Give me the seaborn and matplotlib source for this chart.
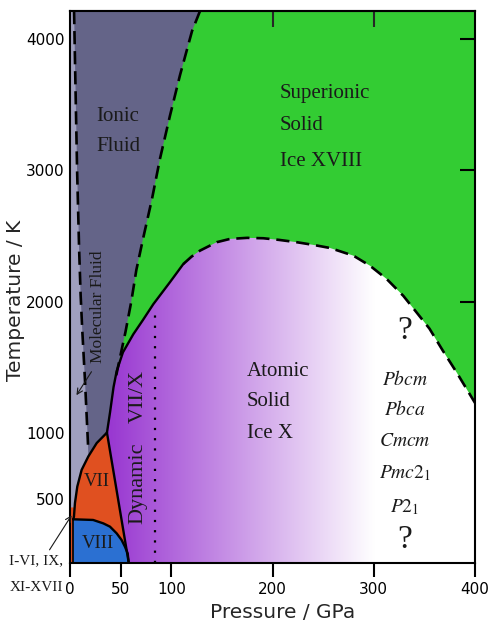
import numpy as np
import matplotlib
matplotlib.use("Agg")
import matplotlib.pyplot as plt
import seaborn as sns
from matplotlib.patches import Polygon

# ---------------- data (pressure GPa, temperature K) ----------------
x_ticks = [0, 50, 100, 200, 300, 400]
y_ticks = [500, 1000, 2000, 3000, 4000]
P_MIN, P_MAX = 0, 400
T_MIN, T_MAX = 15, 4210

# molecular / ionic fluid boundary (dashed)
mol_P = [4, 5.5, 7, 9, 10.5, 12, 14.8, 17.8]
mol_T = [4210, 3600, 3000, 2400, 2050, 1800, 1400, 912]

# ionic fluid / superionic boundary (dashed)
ion_P = [128.4, 120.5, 108.6, 98.8, 88.9, 81.0, 72.1, 65.5, 60.5, 54.8, 48.0, 44.6]
ion_T = [4210, 4057, 3721, 3416, 3088, 2782, 2477, 2240, 2000, 1770, 1525, 1400]

# melting curve of ice VII (solid)
melt_P = [3.3, 3.9, 4.9, 7.2, 11.5, 18.1, 26.4, 36.5]
melt_T = [345, 365, 469, 594, 721, 823, 925, 1004]

# ice X boundary from triple point (solid)
xb_P = [36.5, 39.5, 43.0, 46.1, 52.3, 62.5, 72.0, 82.3, 98.8, 111.9]
xb_T = [1004, 1156, 1350, 1472, 1615, 1752, 1860, 1981, 2149, 2286]

# superionic / ice X dome (dashed)
dome_P = [111.9, 120, 128.4, 144.9, 158, 175, 190.9, 206, 223.9, 240, 256.8, 279.8,
          296.3, 312.8, 329.2, 342.4, 355, 368, 382, 400]
dome_T = [2286, 2342, 2388, 2452, 2477, 2485, 2482, 2470, 2452, 2432, 2408, 2350,
          2273, 2172, 2044, 1917, 1795, 1630, 1460, 1230]

# VII / X line (solid)
vx_P = [36.5, 58.0]
vx_T = [1004, 15]

# VIII top (solid)
viii_P = [3.3, 22.8, 32.9, 39.5, 46.1, 51.0, 54.3, 57.0, 58.0]
viii_T = [345, 340, 314, 289, 238, 187, 136, 85, 15]

# dynamic VII/X dotted line
dot_P = [84, 84]
dot_T = [15, 1943]

# colours
GREEN = "#33cc33"
DARK_FLUID = "#646488"
LIGHT_FLUID = "#a0a0bf"
ORANGE = "#e05020"
BLUE = "#2b70d2"
PURPLE = np.array([0.60, 0.22, 0.82])

sns.set_style("ticks")
plt.rcParams["font.family"] = ["DejaVu Sans"]
plt.rcParams["mathtext.fontset"] = "stix"
SERIF = ["Liberation Serif", "DejaVu Serif"]
TXT = "#1a1a1a"

fig = plt.figure(figsize=(4.91, 6.24), dpi=100)
ax = fig.add_axes([0.14257, 0.09824, 0.82485, 0.88413])
ax.set_facecolor(GREEN)

# dark ionic fluid
dark_P = [0] + ion_P + xb_P[::-1][2:] + melt_P[::-1] + [0]
dark_T = [T_MAX] + ion_T + xb_T[::-1][2:] + melt_T[::-1] + [345]
ax.fill(dark_P, dark_T, color=DARK_FLUID, lw=0, zorder=1.0)

# light molecular fluid
light_P = [0] + mol_P + [18.1, 11.5, 7.2, 4.9, 3.9, 3.3, 0]
light_T = [T_MAX] + mol_T + [823, 721, 594, 469, 365, 345, 345]
ax.fill(light_P, light_T, color=LIGHT_FLUID, lw=0, zorder=1.1)

# small I-VI etc. sliver
ax.fill([0, 0, 4.3, 3.9, 3.3, 3.3], [T_MIN, 435, 435, 365, 345, T_MIN],
        color=ORANGE, lw=0, zorder=1.2)

# ice VII
vii_P = melt_P + [58.0, 3.3]
vii_T = melt_T + [15, 15]
ax.fill(vii_P, vii_T, color=ORANGE, lw=0, zorder=1.3)

# ice VIII
ax.fill(viii_P + [3.3], viii_T + [15], color=BLUE, lw=0, zorder=1.4)

# ice X purple gradient region
reg_P = vx_P[::-1] + xb_P[1:] + dome_P[1:] + [400, 58.0]
reg_T = vx_T[::-1] + xb_T[1:] + dome_T[1:] + [15, 15]
Pgrid = np.linspace(P_MIN, P_MAX, 800)
frac = np.clip((Pgrid - 40) / (300 - 40), 0, 1)
img = PURPLE[None, :] * (1 - frac[:, None]) + frac[:, None]
img = img[None, :, :]
im = ax.imshow(img, extent=[P_MIN, P_MAX, T_MIN, T_MAX], origin="lower",
               aspect="auto", zorder=1.5, interpolation="bilinear")
clip = Polygon(np.column_stack([reg_P, reg_T]), closed=True,
               transform=ax.transData, facecolor="none", edgecolor="none")
ax.add_patch(clip)
im.set_clip_path(clip)

# boundary lines
DASH = (0, (5.0, 2.6))
def line(P, T, ls="-", lw=1.7):
    n = len(ax.lines)
    sns.lineplot(x=P, y=T, sort=False, estimator=None, color="black",
                 linewidth=lw, ax=ax, zorder=3)
    for ln in ax.lines[n:]:
        ln.set_linestyle(ls)
        ln.set_linewidth(lw)
        ln.set_dash_capstyle("butt")
        ln.set_solid_joinstyle("round")

line(mol_P, mol_T, DASH, 1.9)
line(ion_P, ion_T, DASH, 1.9)
line(dome_P, dome_T, DASH, 1.9)
line(melt_P, melt_T)
line(xb_P, xb_T)
line(vx_P, vx_T)
line(viii_P, viii_T)
line([3.3, 3.3], [345, 15], "-", 1.2)
line(dot_P, dot_T, (0, (1, 3.6)), 1.6)

ax.set_xlim(P_MIN, P_MAX)
ax.set_ylim(T_MIN, T_MAX)

# region labels
def t(x, y, s, size=15, ha="center", rot=0, fam=SERIF, **kw):
    ax.text(x, y, s, fontsize=size, ha=ha, va="center", rotation=rot,
            family=fam, color=TXT, zorder=4, **kw)

t(47.4, 3408, "Ionic")
t(47.4, 3179, "Fluid")
t(207.4, 3584, "Superionic", ha="left")
t(207.4, 3340, "Solid", ha="left")
t(207.4, 3065, "Ice XVIII", ha="left")
t(174.8, 1469, "Atomic", ha="left")
t(174.8, 1240, "Solid", ha="left")
t(174.8, 996, "Ice X", ha="left")
t(67.2, 1279, "VII/X", size=16, rot=90)
t(67.2, 622, "Dynamic", size=16, rot=90)
t(26.7, 630, "VII", size=13.5)
t(27.7, 164, "VIII", size=13.5)
t(27.7, 1958, "Molecular Fluid", size=12.5, rot=90)

t(330.9, 1782, "?", size=24)
t(330.9, 187, "?", size=24)
t(330.9, 1408, r"$Pbcm$", size=14)
t(330.9, 1179, r"$Pbca$", size=14)
t(330.9, 935, r"$Cmcm$", size=14)
t(330.9, 698, r"$Pmc2_1$", size=14)
t(330.9, 439, r"$P2_1$", size=14)

ax.text(-33.6, 27, "I-VI, IX,", fontsize=11, ha="center", va="center",
        family=SERIF, color=TXT, clip_on=False)
ax.text(-33.6, -172, "XI-XVII", fontsize=11, ha="center", va="center",
        family=SERIF, color=TXT, clip_on=False)
ax.annotate("", xy=(3, 393), xytext=(-21.7, 95),
            arrowprops=dict(arrowstyle="->", lw=0.8, color=TXT),
            annotation_clip=False, zorder=4)
ax.annotate("", xy=(4.9, 1271), xytext=(22.7, 1485),
            arrowprops=dict(arrowstyle="->", lw=0.8, color=TXT),
            annotation_clip=False, zorder=4)

# axes styling
for s in ax.spines.values():
    s.set_linewidth(1.5)
    s.set_color("black")
    s.set_visible(True)
ax.set_xticks(x_ticks)
ax.set_yticks(y_ticks)
ax.tick_params(axis="x", direction="out", length=10, width=1.5,
               labelsize=11, pad=4, colors="black")
ax.tick_params(axis="y", direction="in", left=True, right=True, length=11,
               width=1.5, labelsize=11, pad=4, colors="black")
sec = ax.secondary_xaxis("top")
sec.set_xticks(x_ticks[1:-1], labels=[""] * (len(x_ticks) - 2))
sec.tick_params(direction="in", length=11.5, width=1.5)
sec.spines["top"].set_linewidth(1.5)

ax.set_xlabel("Pressure / GPa", fontsize=14.5)
ax.set_ylabel("Temperature / K", fontsize=14.5)
ax.xaxis.set_label_coords(0.526, -0.073)
ax.yaxis.set_label_coords(-0.11, 0.476)

fig.savefig("out.png", dpi=100)
